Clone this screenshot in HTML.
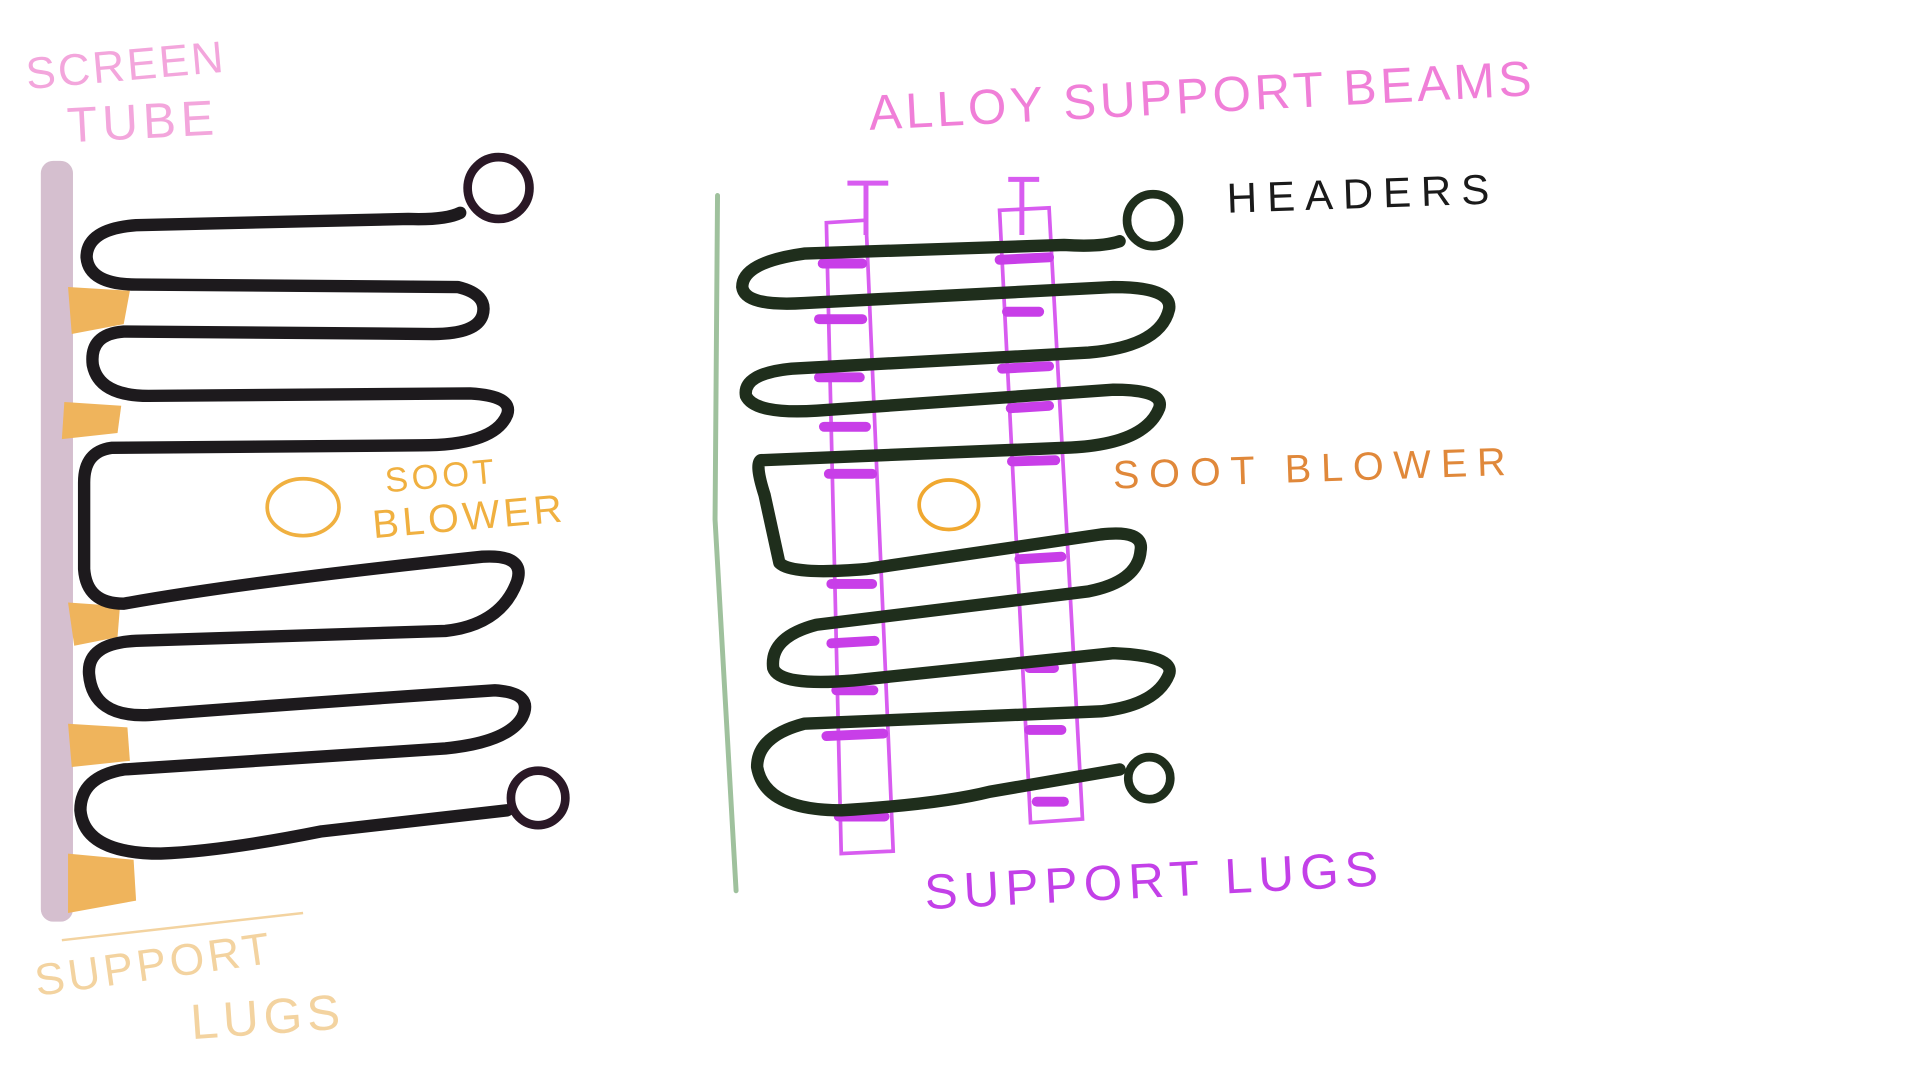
<!DOCTYPE html>
<html><head><meta charset="utf-8"><style>
html,body{margin:0;padding:0;background:#fff;width:1920px;height:1080px;overflow:hidden}
svg{display:block}
text{font-family:"Liberation Sans",sans-serif;font-weight:normal}
</style></head><body>
<svg width="1920" height="1080" viewBox="0 0 1552 873" preserveAspectRatio="none" xmlns="http://www.w3.org/2000/svg">
<!-- LEFT -->
<text x="22" y="72" font-size="36" fill="#f3a6dc" transform="rotate(-5 22 72)" letter-spacing="2">SCREEN</text>
<text x="55" y="115" font-size="40" fill="#f3a6dc" transform="rotate(-3 55 115)" letter-spacing="4">TUBE</text>
<rect x="33" y="130" width="26" height="615" rx="10" fill="#d5bfcf"/>
<g fill="#efb45c">
<path d="M55 232 L105 235 L100 262 L58 270 Z"/>
<path d="M52 325 L98 328 L95 350 L50 355 Z"/>
<path d="M55 487 L97 490 L95 515 L60 522 Z"/>
<path d="M55 585 L103 588 L105 615 L58 620 Z"/>
<path d="M55 690 L108 695 L110 728 L55 738 Z"/>
</g>
<path d="M372 172 Q360 178 330 177 L110 182 Q70 185 70 208 Q72 230 110 230 L370 232 Q395 238 390 255 Q385 270 350 270 L100 268 Q72 270 75 295 Q80 320 120 320 L380 318 Q415 320 410 335 Q400 360 340 360 L90 362 Q68 365 68 390 L68 460 Q70 488 100 488 Q200 470 390 450 Q425 448 418 470 Q405 505 360 510 L110 518 Q70 520 72 545 Q75 580 120 578 Q250 568 400 558 Q432 560 422 580 Q410 600 360 605 L100 622 Q65 628 65 655 Q68 690 130 690 Q180 688 260 672 L410 655" fill="none" stroke="#1d1a1d" stroke-width="10" stroke-linecap="round" stroke-linejoin="round"/>
<circle cx="403" cy="152" r="25" fill="none" stroke="#2a1826" stroke-width="7"/>
<circle cx="435" cy="645" r="22" fill="none" stroke="#2a1826" stroke-width="7"/>
<ellipse cx="245" cy="410" rx="29" ry="23" fill="none" stroke="#f0b040" stroke-width="3"/>
<text x="312" y="398" font-size="28" fill="#f0b040" transform="rotate(-5 312 398)" letter-spacing="3">SOOT</text>
<text x="302" y="435" font-size="32" fill="#f0b040" transform="rotate(-5 302 435)" letter-spacing="3">BLOWER</text>
<text x="30" y="805" font-size="36" fill="#f3d3a0" transform="rotate(-8 30 805)" letter-spacing="3">SUPPORT</text>
<text x="155" y="840" font-size="40" fill="#f3d3a0" transform="rotate(-4 155 840)" letter-spacing="4">LUGS</text>
<line x1="50" y1="760" x2="245" y2="738" stroke="#f3d3a0" stroke-width="2"/>

<!-- RIGHT -->
<text x="703" y="105" font-size="40" fill="#f07fd8" transform="rotate(-3 703 105)" letter-spacing="3">ALLOY SUPPORT BEAMS</text>
<text x="992" y="172" font-size="34" fill="#1a1a1a" transform="rotate(-2 992 172)" letter-spacing="8">HEADERS</text>
<text x="900" y="395" font-size="32" fill="#e0883a" transform="rotate(-2 900 395)" letter-spacing="8">SOOT BLOWER</text>
<text x="748" y="735" font-size="40" fill="#c340e8" transform="rotate(-3 748 735)" letter-spacing="5">SUPPORT LUGS</text>
<path d="M580 158 L578 420 L595 720" fill="none" stroke="#9fc19d" stroke-width="4" stroke-linecap="round"/>
<!-- beams -->
<g fill="none" stroke="#d85cf0" stroke-width="3">
<path d="M668 180 L680 690 L722 688 L700 178 Z"/>
<path d="M808 170 L833 665 L875 662 L848 168 Z"/>
<path d="M685 148 L718 148 M700 148 L700 190 M815 145 L840 145 M826 145 L826 190" stroke-width="4"/>
</g>
<g stroke="#c83ee8" stroke-width="8" stroke-linecap="round">
<line x1="665" y1="213" x2="697" y2="213"/><line x1="808" y1="210" x2="848" y2="208"/>
<line x1="662" y1="258" x2="697" y2="258"/><line x1="814" y1="252" x2="840" y2="252"/>
<line x1="662" y1="305" x2="695" y2="305"/><line x1="810" y1="298" x2="848" y2="296"/>
<line x1="666" y1="345" x2="700" y2="345"/><line x1="817" y1="330" x2="848" y2="328"/>
<line x1="670" y1="383" x2="705" y2="383"/><line x1="818" y1="373" x2="853" y2="372"/>
<line x1="672" y1="472" x2="705" y2="472"/><line x1="824" y1="452" x2="858" y2="450"/>
<line x1="672" y1="520" x2="707" y2="518"/><line x1="832" y1="540" x2="852" y2="540"/>
<line x1="676" y1="558" x2="706" y2="558"/>
<line x1="668" y1="595" x2="714" y2="593"/><line x1="832" y1="590" x2="858" y2="590"/>
<line x1="678" y1="660" x2="715" y2="660"/><line x1="838" y1="648" x2="860" y2="648"/>
</g>
<path d="M905 195 Q890 200 860 198 L650 205 Q600 212 600 232 Q602 248 650 245 L900 232 Q948 232 945 250 Q938 280 880 285 L640 298 Q600 302 603 320 Q610 335 660 332 L900 315 Q942 315 937 330 Q925 360 860 362 L615 372 Q610 375 618 400 L630 455 Q640 465 700 460 L890 432 Q925 428 922 445 Q920 470 880 478 L660 505 Q622 515 625 540 Q630 555 690 550 L900 528 Q950 530 945 545 Q935 570 890 575 L650 585 Q612 595 612 620 Q618 655 680 655 Q760 650 800 640 L905 622" fill="none" stroke="#1f2e1c" stroke-width="10" stroke-linecap="round" stroke-linejoin="round"/>
<circle cx="932" cy="178" r="21" fill="none" stroke="#1f2e1c" stroke-width="7"/>
<circle cx="929" cy="629" r="17" fill="none" stroke="#1f2e1c" stroke-width="7"/>
<ellipse cx="767" cy="408" rx="24" ry="20" fill="none" stroke="#f0a830" stroke-width="3"/>
</svg>
</body></html>
